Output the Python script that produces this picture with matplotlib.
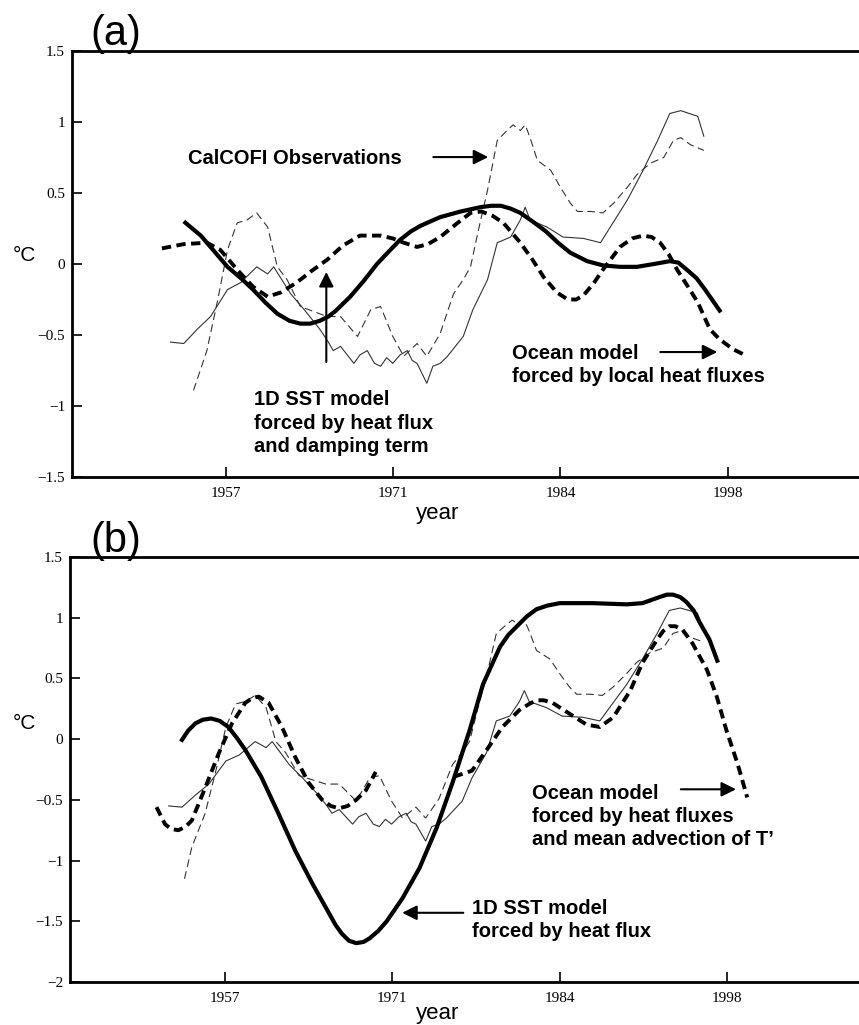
import numpy as np
import matplotlib.pyplot as plt
from matplotlib.ticker import FuncFormatter

plt.rcParams['font.family'] = ['Liberation Serif', 'DejaVu Serif']
SANS = ['Liberation Sans', 'DejaVu Sans']

tick_labels = ['1957', '1971', '1984', '1998']

# CalCOFI observations, drawn thin in both panels
obs_solid_yr = [1952.4, 1953.5, 1954.6, 1955.7, 1957.1, 1958.2, 1959.5, 1960.4, 1960.9,
                1962.3, 1963.4, 1964.7, 1965.4, 1965.8, 1966.4, 1967.5, 1968.0, 1968.6,
                1969.2, 1969.7, 1970.2, 1970.7, 1971.3, 1971.9, 1972.3, 1972.7, 1973.5,
                1974.0, 1974.6, 1975.2, 1976.5, 1977.3, 1978.5, 1979.3, 1980.4, 1981.2,
                1981.6, 1982.0, 1983.4, 1984.7, 1986.4, 1987.8, 1988.6, 1990.0, 1991.3,
                1992.5, 1993.5, 1994.4, 1995.8, 1996.3]
obs_solid = [-0.55, -0.56, -0.46, -0.37, -0.18, -0.13, -0.02, -0.07, -0.02,
             -0.21, -0.32, -0.46, -0.55, -0.61, -0.58, -0.70, -0.64, -0.61,
             -0.70, -0.72, -0.66, -0.70, -0.64, -0.61, -0.68, -0.70, -0.84,
             -0.72, -0.70, -0.65, -0.51, -0.32, -0.11, 0.15, 0.19, 0.31,
             0.40, 0.31, 0.26, 0.19, 0.18, 0.15, 0.26, 0.45, 0.66,
             0.87, 1.06, 1.08, 1.04, 0.90]

obs_dash_yr = [1954.3, 1955.4, 1956.3, 1957.1, 1957.9, 1958.7, 1959.5, 1960.4, 1961.2,
               1962.0, 1963.1, 1965.3, 1966.4, 1967.8, 1968.9, 1969.7, 1970.7, 1971.6,
               1972.7, 1973.5, 1974.6, 1975.7, 1976.5, 1977.1, 1977.7, 1978.5, 1979.3,
               1980.1, 1980.6, 1981.2, 1981.6, 1982.0, 1982.6, 1983.7, 1984.5, 1985.3,
               1985.9, 1987.0, 1988.0, 1988.9, 1990.0, 1990.8, 1991.9, 1993.0, 1993.8,
               1994.4, 1995.2, 1996.3]
obs_dash = [-0.89, -0.61, -0.25, 0.10, 0.29, 0.31, 0.36, 0.26, -0.02,
            -0.11, -0.30, -0.37, -0.37, -0.51, -0.32, -0.30, -0.51, -0.65,
            -0.56, -0.65, -0.49, -0.21, -0.11, -0.02, 0.22, 0.52, 0.87,
            0.94, 0.98, 0.94, 0.98, 0.89, 0.73, 0.66, 0.54, 0.43,
            0.37, 0.37, 0.36, 0.43, 0.54, 0.63, 0.71, 0.75, 0.87,
            0.89, 0.84, 0.80]
# panel (b) shows the dashed record starting a little earlier
b_obs_dash_lead_yr = [1953.7]
b_obs_dash_lead = [-1.15]

# (a) 1D SST model with damping, and ocean model with local heat fluxes
a_sst_yr = [1953.5, 1954.2, 1954.9, 1956.0, 1957.1, 1958.2, 1959.2, 1960.2, 1961.2,
            1962.2, 1963.1, 1963.9, 1964.7, 1965.4, 1966.0, 1967.2, 1968.3, 1969.4,
            1970.4, 1971.3, 1972.2, 1973.0, 1974.6, 1976.3, 1977.9, 1978.8, 1979.6,
            1980.4, 1981.2, 1982.2, 1983.3, 1984.3, 1985.3, 1986.7, 1988.0, 1989.4,
            1990.8, 1992.2, 1993.5, 1994.2, 1994.9, 1995.7, 1996.4, 1997.7]
a_sst = [0.30, 0.25, 0.20, 0.09, -0.02, -0.10, -0.18, -0.27, -0.35,
         -0.40, -0.42, -0.42, -0.40, -0.37, -0.33, -0.23, -0.12, 0.00,
         0.09, 0.17, 0.23, 0.27, 0.33, 0.37, 0.40, 0.41, 0.41,
         0.39, 0.36, 0.30, 0.23, 0.15, 0.08, 0.02, -0.01, -0.02,
         -0.02, 0.00, 0.02, 0.01, -0.04, -0.10, -0.18, -0.34]

a_ocean_yr = [1951.7, 1953.5, 1955.4, 1956.5, 1958.0, 1959.2, 1960.4, 1961.5, 1962.8,
              1964.0, 1965.3, 1966.6, 1968.0, 1969.7, 1970.7, 1971.6, 1972.7, 1973.6,
              1974.6, 1975.9, 1977.1, 1978.0, 1978.9, 1979.8, 1981.2, 1982.2, 1983.1,
              1984.2, 1985.1, 1985.8, 1986.4, 1987.2, 1988.0, 1989.4, 1990.4, 1991.3,
              1992.0, 1992.7, 1993.4, 1994.1, 1995.0, 1995.8, 1996.8, 1997.6, 1998.7,
              1999.9]
a_ocean = [0.11, 0.14, 0.15, 0.10, -0.05, -0.16, -0.23, -0.20, -0.13,
           -0.05, 0.03, 0.13, 0.20, 0.20, 0.18, 0.15, 0.12, 0.14,
           0.19, 0.28, 0.36, 0.37, 0.34, 0.29, 0.15, 0.03, -0.09,
           -0.20, -0.25, -0.25, -0.22, -0.14, -0.04, 0.12, 0.18, 0.20,
           0.19, 0.15, 0.07, -0.04, -0.16, -0.27, -0.46, -0.53, -0.60,
           -0.65]

# (b) 1D SST model with heat flux only, and ocean model with mean advection
b_sst_yr = [1953.4, 1954.0, 1954.6, 1955.2, 1955.9, 1956.6, 1957.3, 1958.0, 1958.7,
            1960.0, 1961.4, 1962.8, 1964.2, 1965.6, 1966.1, 1966.6, 1967.2, 1967.8,
            1968.4, 1968.9, 1969.6, 1970.3, 1971.6, 1973.0, 1974.4, 1975.7, 1977.1,
            1978.2, 1979.6, 1980.3, 1981.0, 1981.8, 1982.6, 1983.5, 1984.5, 1987.2,
            1990.0, 1991.3, 1992.7, 1993.3, 1993.8, 1994.4, 1994.9, 1995.5, 1996.0,
            1996.8, 1997.5]
b_sst = [-0.02, 0.07, 0.13, 0.16, 0.17, 0.15, 0.10, 0.01, -0.09,
         -0.31, -0.61, -0.92, -1.19, -1.44, -1.53, -1.60, -1.66, -1.68,
         -1.67, -1.64, -1.58, -1.50, -1.31, -1.06, -0.73, -0.36, 0.07,
         0.45, 0.76, 0.86, 0.93, 1.01, 1.07, 1.10, 1.12, 1.12,
         1.11, 1.12, 1.17, 1.19, 1.19, 1.17, 1.13, 1.06, 0.96,
         0.82, 0.63]

b_ocean_yr = [1951.4, 1952.1, 1952.6, 1953.2, 1953.8, 1954.3, 1955.4, 1956.5, 1957.6,
              1958.7, 1959.3, 1959.8, 1960.6, 1961.7, 1962.8, 1963.9, 1965.0, 1965.7,
              1966.4, 1967.1, 1967.8, 1968.6, 1969.4, np.nan, 1975.8, 1977.3, 1978.5,
              1979.8, 1981.2, 1982.0, 1982.6, 1983.2, 1983.9, 1985.3, 1986.7, 1987.8,
              1988.9, 1990.3, 1991.3, 1992.5, 1993.0, 1993.5, 1994.0, 1994.6, 1995.4,
              1996.6, 1997.4, 1998.2, 1999.1, 1999.9]
b_ocean = [-0.56, -0.70, -0.74, -0.75, -0.72, -0.67, -0.40, -0.12, 0.13,
           0.30, 0.34, 0.35, 0.30, 0.10, -0.15, -0.36, -0.50, -0.55,
           -0.57, -0.55, -0.50, -0.42, -0.27, np.nan, -0.31, -0.26, -0.09,
           0.10, 0.24, 0.29, 0.32, 0.32, 0.30, 0.21, 0.12, 0.10,
           0.18, 0.40, 0.63, 0.82, 0.89, 0.93, 0.93, 0.90, 0.79,
           0.57, 0.35, 0.07, -0.20, -0.48]


def setup(ax, ylim, yticks):
    ax.set_xlim(1944.3, 2010.8)
    ax.set_ylim(*ylim)
    ax.set_xticks(np.linspace(1957, 1998.25, 4))
    ax.set_xticklabels(tick_labels)
    ax.set_yticks(yticks)
    ax.yaxis.set_major_formatter(FuncFormatter(lambda v, p: ('%g' % v).replace('-', '\u2212')))
    ax.spines['right'].set_visible(False)
    for s in ('left', 'bottom', 'top'):
        ax.spines[s].set_linewidth(2.0)
    ax.tick_params(direction='in', length=7, width=1.2, labelsize=11)
    ax.tick_params(axis='x', pad=7)
    ax.tick_params(axis='y', pad=5)


def obs_lines(ax, dash_yr, dash):
    ax.plot(obs_solid_yr, obs_solid, color='#333333', lw=0.8)
    ax.plot(dash_yr, dash, color='#333333', lw=0.8, linestyle=(0, (7, 4)))


def arrow(ax, start, tip):
    ax.annotate('', xy=tip, xytext=start,
                arrowprops=dict(arrowstyle='-|>', color='black', lw=1.5, mutation_scale=22,
                                shrinkA=0, shrinkB=0))


def label(ax, x, y, s):
    ax.text(x, y, s, family=SANS, fontsize=14.5, fontweight='bold', ha='left', va='center',
            linespacing=1.29)


fig = plt.figure(figsize=(8.59, 10.25), dpi=100)

# ---- panel (a)
ax = fig.add_axes([72 / 859, 1 - 477 / 1025, 808 / 859, 426 / 1025])
setup(ax, (-1.5, 1.5), [-1.5, -1, -0.5, 0, 0.5, 1, 1.5])
obs_lines(ax, obs_dash_yr, obs_dash)
ax.plot(a_sst_yr, a_sst, color='black', lw=3.0, solid_capstyle='butt')
ax.plot(a_ocean_yr, a_ocean, color='black', lw=2.8, linestyle=(0, (2.4, 1.4)))

label(ax, 1953.87, 0.746, 'CalCOFI Observations')
arrow(ax, (1974.04, 0.753), (1978.56, 0.753))
label(ax, 1959.3, -1.12, '1D SST model\nforced by heat flux\nand damping term')
arrow(ax, (1965.23, -0.69), (1965.23, -0.056))
label(ax, 1980.54, -0.711, 'Ocean model\nforced by local heat fluxes')
arrow(ax, (1992.72, -0.62), (1997.41, -0.62))

# ---- panel (b)
ax = fig.add_axes([70 / 859, 1 - 982 / 1025, 810 / 859, 425 / 1025])
setup(ax, (-2, 1.5), [-2, -1.5, -1, -0.5, 0, 0.5, 1, 1.5])
obs_lines(ax, b_obs_dash_lead_yr + obs_dash_yr, b_obs_dash_lead + obs_dash)
ax.plot(b_sst_yr, b_sst, color='black', lw=3.0, solid_capstyle='butt')
ax.plot(b_ocean_yr, b_ocean, color='black', lw=2.8, linestyle=(0, (2.4, 1.4)))

label(ax, 1982.27, -0.636, 'Ocean model\nforced by heat fluxes\nand mean advection of T\u2019')
arrow(ax, (1994.45, -0.413), (1998.98, -0.413))
label(ax, 1977.33, -1.49, '1D SST model\nforced by heat flux')
arrow(ax, (1976.59, -1.43), (1971.57, -1.43))

# panel letters and axis titles
for y, letter in ((0.967, '(a)'), (0.472, '(b)')):
    fig.text(0.135, y, letter, family=SANS, fontsize=30, ha='center', va='center')
for y in (0.751, 0.2946):
    fig.text(0.028, y, '\u00b0C', family=SANS, fontsize=15, ha='center', va='center')
for y in (0.4995, 0.0117):
    fig.text(0.509, y, 'year', family=SANS, fontsize=16, ha='center', va='center')

fig.savefig('out.png', dpi=100)
